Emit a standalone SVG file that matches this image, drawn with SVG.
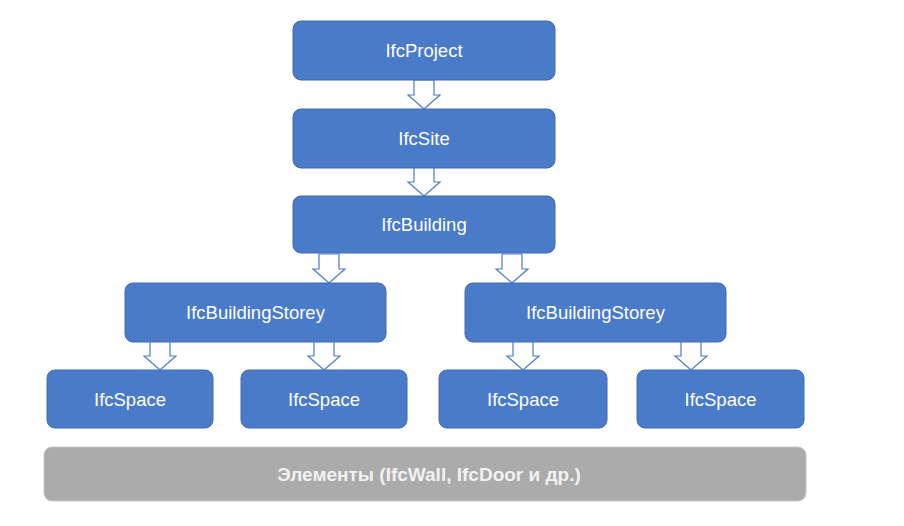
<svg xmlns="http://www.w3.org/2000/svg" xmlns:xlink="http://www.w3.org/1999/xlink" width="904" height="526" viewBox="0 0 904 526">
<style>
.node{fill:#4A7BC8;stroke:#3F6CB3;stroke-width:1}
.lbl{fill:#ffffff;font-family:"Liberation Sans","Open Sans",sans-serif;font-size:18.5px;text-anchor:middle;dominant-baseline:central}
.elem{fill:#ABABAB;stroke:#C8C8C8;stroke-width:1}
.elbl{fill:#F2F2F2;font-family:"Liberation Sans",Arial,sans-serif;font-size:19px;font-weight:bold;text-anchor:middle;dominant-baseline:central}
.arr{fill:#ffffff;stroke:#4A7BC8;stroke-width:1.2;stroke-linejoin:miter}
</style>
<defs>
<path id="arr" class="arr" d="M-10,-29 H10 V-14 H16 L0,0 L-16,-14 H-10 Z"/>
</defs>
<rect width="904" height="526" fill="#ffffff"/>
<g id="connectors">
<use xlink:href="#arr" href="#arr" x="424" y="109"/>
<use xlink:href="#arr" href="#arr" x="424" y="196"/>
<use xlink:href="#arr" href="#arr" x="329" y="283"/>
<use xlink:href="#arr" href="#arr" x="512" y="283"/>
<use xlink:href="#arr" href="#arr" x="160" y="370"/>
<use xlink:href="#arr" href="#arr" x="324" y="370"/>
<use xlink:href="#arr" href="#arr" x="523" y="370"/>
<use xlink:href="#arr" href="#arr" x="691" y="370"/>
</g>
<g id="ifcproject"><rect class="node" x="293" y="21" width="262" height="59" rx="8"/><text class="lbl" x="424" y="50.5">IfcProject</text></g>
<g id="ifcsite"><rect class="node" x="293" y="109" width="262" height="59" rx="8"/><text class="lbl" x="424" y="138.5">IfcSite</text></g>
<g id="ifcbuilding"><rect class="node" x="293" y="196" width="262" height="57" rx="8"/><text class="lbl" x="424" y="224.5">IfcBuilding</text></g>
<g id="storey1"><rect class="node" x="125" y="283" width="261" height="59" rx="8"/><text class="lbl" x="255.5" y="312.5">IfcBuildingStorey</text></g>
<g id="storey2"><rect class="node" x="465" y="283" width="261" height="59" rx="8"/><text class="lbl" x="595.5" y="312.5">IfcBuildingStorey</text></g>
<g id="space1"><rect class="node" x="47" y="370" width="166" height="58" rx="8"/><text class="lbl" x="130" y="399">IfcSpace</text></g>
<g id="space2"><rect class="node" x="241" y="370" width="166" height="58" rx="8"/><text class="lbl" x="324" y="399">IfcSpace</text></g>
<g id="space3"><rect class="node" x="439" y="370" width="168" height="58" rx="8"/><text class="lbl" x="523" y="399">IfcSpace</text></g>
<g id="space4"><rect class="node" x="637" y="370" width="167" height="58" rx="8"/><text class="lbl" x="720.5" y="399">IfcSpace</text></g>
<g id="elements"><rect class="elem" x="44" y="447" width="762" height="54" rx="8"/><text class="elbl" x="429" y="474">Элементы (IfcWall, IfcDoor и др.)</text></g>
</svg>
